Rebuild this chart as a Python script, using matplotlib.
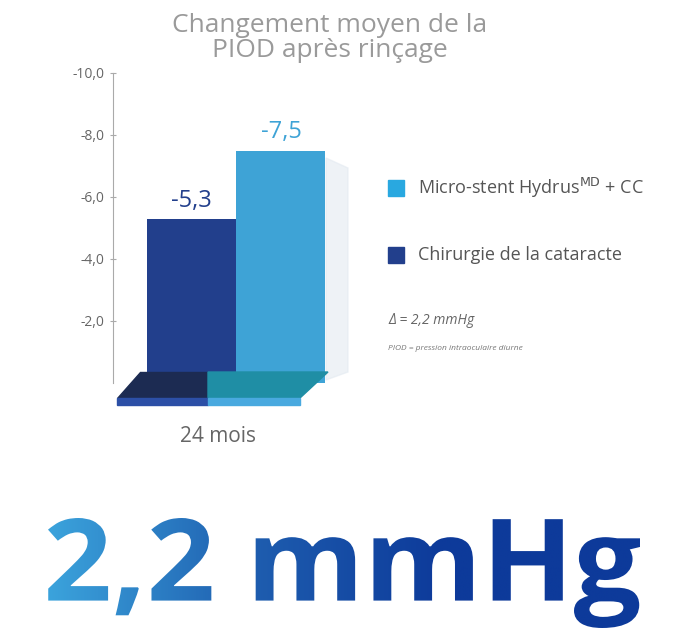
import numpy as np
import matplotlib
matplotlib.use("Agg")
import matplotlib.pyplot as plt
from matplotlib.patches import Polygon, PathPatch, Rectangle
from matplotlib.textpath import TextPath
from matplotlib.font_manager import FontProperties
from matplotlib.transforms import Affine2D
from matplotlib.colors import LinearSegmentedColormap

categories = ["Chirurgie de la cataracte", "Micro-stent Hydrus$^{\\rm MD}$ + CC"]
values = [-5.3, -7.5]
labels = ["-5,3", "-7,5"]
colors = ["#223f8c", "#3ea3d6"]
yticks = [-10, -8, -6, -4, -2]
ytick_labels = ["-10,0", "-8,0", "-6,0", "-4,0", "-2,0"]

W, H = 678, 637
fig = plt.figure(figsize=(W/100, H/100), dpi=100)
plt.rcParams['font.family'] = ['Open Sans', 'DejaVu Sans']

def ax_px(l, t, r, b):
    return fig.add_axes([l/W, 1-b/H, (r-l)/W, (b-t)/H])

ax = ax_px(113, 73, 360, 383)
ax.set_ylim(0, -10)
ax.set_xlim(0, 247)
x = [34 + 44.5, 123 + 45]
ax.bar(x, values, width=89, color=colors, zorder=3)
for xi, v, lb, c in zip(x, values, labels, colors):
    ax.text(xi, v - 0.2, lb, ha='center', va='bottom', fontsize=17, color=c)
ax.set_yticks(yticks)
ax.set_yticklabels(ytick_labels, fontsize=10, color="#666666")
ax.set_xticks([])
for s in ['top', 'right', 'bottom']:
    ax.spines[s].set_visible(False)
ax.spines['left'].set_color("#aaaaaa")
ax.spines['left'].set_bounds(0, -10)
ax.tick_params(axis='y', length=5, color="#aaaaaa", direction='inout')
ax.patch.set_alpha(0)

fx = lambda px: px/W
fy = lambda py: 1-py/H
def poly(pts, color, z=1, alpha=1):
    fig.patches.append(Polygon([(fx(a), fy(b)) for a, b in pts], closed=True,
                               transform=fig.transFigure, color=color, zorder=z, alpha=alpha))
poly([(326, 158), (348, 168), (348, 372), (326, 380)], "#e3eaf1", 0, 0.6)
poly([(140, 372), (208, 372), (208, 398), (117, 398)], "#1c2b52", 1)
poly([(208, 372), (328, 372), (300, 398), (208, 398)], "#1f8ea5", 1)
poly([(117, 398), (208, 398), (208, 405), (117, 405)], "#2c4fa6", 1)
poly([(208, 398), (300, 398), (300, 405), (208, 405)], "#49a9df", 1)

fig.text(fx(218), fy(437), "24 mois", ha='center', va='center', fontsize=15, color="#666666")
fig.text(fx(330), fy(38), "Changement moyen de la\nPIOD après rinçage", ha='center', va='center',
         fontsize=19, color="#9a9a9a", linespacing=1.0)

fig.patches.append(Rectangle((fx(388), fy(196)), 16/W, 16/H, transform=fig.transFigure, color="#29a8e0"))
fig.patches.append(Rectangle((fx(388), fy(263)), 16/W, 16/H, transform=fig.transFigure, color="#223f8c"))
fig.text(fx(418), fy(188), categories[1], va='center', fontsize=13, color="#555555")
fig.text(fx(418), fy(255), categories[0], va='center', fontsize=13, color="#555555")
fig.text(fx(388), fy(321), "Δ = 2,2 mmHg", va='center', fontsize=10, color="#666666", style='italic')
fig.text(fx(388), fy(349), "PIOD = pression intraoculaire diurne", va='center', fontsize=6, color="#777777", style='italic')

bax = fig.add_axes([0, 0, 1, 1])
bax.set_xlim(0, W); bax.set_ylim(H, 0); bax.axis('off'); bax.patch.set_alpha(0)
fp = FontProperties(family='Open Sans', weight='bold')
tp = TextPath((0, 0), "2,2 mmHg", prop=fp, size=100)
ext = tp.get_extents()
sx = (640 - 48) / ext.width
sy = (628 - 518) / ext.height
tr = Affine2D().translate(-ext.x0, -ext.y0).scale(sx, -sy).translate(48, 628)
path = tr.transform_path(tp)
grad = np.linspace(0, 1, 256).reshape(1, -1)
cm = LinearSegmentedColormap.from_list("g", ["#3ba3dc", "#1f5fb0", "#0d3a9a", "#0d3a9a"])
im = bax.imshow(grad, cmap=cm, extent=[48, 640, 632, 505], aspect='auto')
pp = PathPatch(path, facecolor='none', edgecolor='none', transform=bax.transData)
bax.add_patch(pp)
im.set_clip_path(pp)

fig.savefig("out.png", dpi=100)
